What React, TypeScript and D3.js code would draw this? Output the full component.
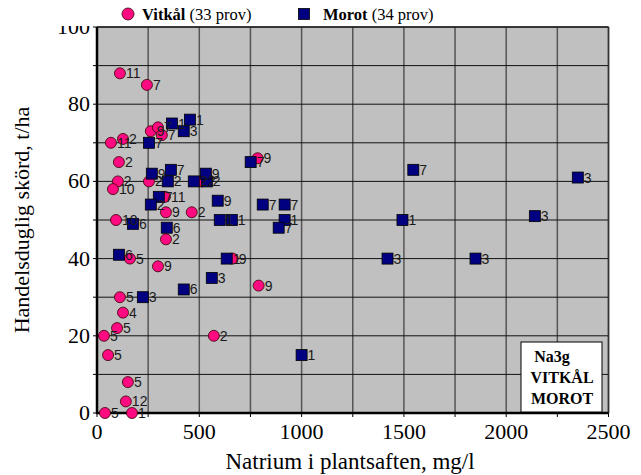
import React from "react";
import * as d3 from "d3";

// Vitkål (33 prov)
const vitkalX = [112, 244, 263, 298, 317, 127, 68, 107, 102, 78, 254, 512, 332, 337, 463, 93, 337, 161, 298, 663, 790, 112, 127, 98, 34, 571, 54, 151, 141, 39, 171, 785];
const vitkalY = [88, 85, 73, 74, 72, 71, 70, 65, 60, 58, 60, 60, 56, 52, 52, 50, 45, 40, 38, 40, 33, 30, 26, 22, 20, 20, 15, 8, 3, 0, 0, 66];
const vitkalLabels = ["11", "7", "9", "7", "7", "2", "11", "2", "2", "10", "2", "2", "11", "9", "2", "10", "2", "5", "9", "9", "9", "5", "4", "5", "5", "2", "5", "5", "12", "5", "1", "9"];

// Morot (34 prov)
const morotX = [254, 366, 454, 424, 751, 1546, 2350, 1493, 2140, 1850, 1420, 810, 917, 659, 917, 888, 1000, 268, 361, 346, 473, 537, 532, 590, 302, 263, 600, 341, 176, 107, 634, 561, 424, 224];
const morotY = [70, 75, 76, 73, 65, 63, 61, 50, 51, 40, 40, 54, 54, 50, 50, 48, 15, 62, 63, 60, 60, 60, 62, 55, 56, 54, 50, 48, 49, 41, 40, 35, 32, 30];
const morotLabels = ["7", "1", "1", "3", "7", "7", "3", "1", "3", "3", "3", "7", "7", "1", "1", "7", "1", "9", "7", "2", "2", "2", "9", "9", "7", "2", "1", "6", "6", "6", "1", "3", "6", "3"];

const xTicks = [0, 500, 1000, 1500, 2000, 2500];
const yTicks = [0, 20, 40, 60, 80, 100];
const xGrid = d3.range(0, 2501, 250);
const yGrid = d3.range(0, 101, 10);

const boxLines = ["Na3g", "VITKÅL", "MOROT"];

const W = 641;
const H = 475;
const L = 97;
const R = 608.5;
const T = 27;
const B = 413;

export default function App() {
  const x = d3.scaleLinear().domain([0, 2500]).range([L, R]);
  const y = d3.scaleLinear().domain([0, 100]).range([B, T]);
  const serif = "'Liberation Serif', 'Times New Roman', serif";
  const sans = "'Liberation Sans', Arial, sans-serif";
  const pink = "#ff0a80";
  const navy = "#000080";
  const sq = 11;

  return (
    <div style={{ position: "fixed", left: 0, top: 0 }}>
      <svg width={W} height={H} style={{ display: "block", background: "#fff" }}>
        <rect x={L} y={T} width={R - L} height={B - T} fill="#c0c0c0" />
        {xGrid.map((v) => (
          <line key={"xg" + v} x1={x(v)} x2={x(v)} y1={T} y2={B} stroke="#555" strokeWidth={1.5} />
        ))}
        {yGrid.map((v) => (
          <line key={"yg" + v} x1={L} x2={R} y1={y(v)} y2={y(v)} stroke="#111" strokeWidth={1} />
        ))}
        <line x1={R} x2={R} y1={T} y2={B} stroke="#333" strokeWidth={1.5} />
        <line x1={L} x2={L} y1={T} y2={B + 1} stroke="#000" strokeWidth={2.5} />
        <line x1={L - 1} x2={R} y1={B} y2={B} stroke="#000" strokeWidth={2.5} />
        {yGrid.map((v) => (
          <line key={"yt" + v} x1={L - 4} x2={L} y1={y(v)} y2={y(v)} stroke="#000" strokeWidth={1} />
        ))}
        {xGrid.map((v) => (
          <line key={"xt" + v} x1={x(v)} x2={x(v)} y1={B} y2={B + 4} stroke="#000" strokeWidth={1} />
        ))}
        {yTicks.map((v) => (
          <text key={"yl" + v} x={L - 7} y={y(v) + 7} textAnchor="end" fontFamily={serif} fontSize={22}>
            {v}
          </text>
        ))}
        {xTicks.map((v) => (
          <text key={"xl" + v} x={x(v)} y={B + 26} textAnchor="middle" fontFamily={serif} fontSize={22}>
            {v}
          </text>
        ))}
        <text x={350} y={469} textAnchor="middle" fontFamily={serif} fontSize={23}>
          Natrium i plantsaften, mg/l
        </text>
        <text transform="translate(29,220) rotate(-90)" textAnchor="middle" fontFamily={serif} fontSize={22}>
          Handelsduglig skörd, t/ha
        </text>

        {vitkalX.map((v, i) => (
          <circle key={"c" + i} cx={x(v)} cy={y(vitkalY[i])} r={5.5} fill={pink} stroke="#300" strokeWidth={0.8} />
        ))}
        {morotX.map((v, i) => (
          <rect key={"s" + i} x={x(v) - sq / 2} y={y(morotY[i]) - sq / 2} width={sq} height={sq} fill={navy} stroke="#000" strokeWidth={0.8} />
        ))}
        {vitkalX.map((v, i) => (
          <text key={"cl" + i} x={x(v) + 6} y={y(vitkalY[i]) + 5} fontFamily={sans} fontSize={14} fill="#1a1a1a">
            {vitkalLabels[i]}
          </text>
        ))}
        {morotX.map((v, i) => (
          <text key={"sl" + i} x={x(v) + 6} y={y(morotY[i]) + 5} fontFamily={sans} fontSize={14} fill="#1a1a1a">
            {morotLabels[i]}
          </text>
        ))}

        <rect x={0} y={0} width={W} height={T - 1} fill="#fff" />
        <circle cx={128} cy={14} r={6} fill={pink} stroke="#300" strokeWidth={0.8} />
        <text x={142} y={19.5} fontFamily={serif} fontSize={16.5}>
          <tspan fontWeight="bold">Vitkål</tspan> (33 prov)
        </text>
        <rect x={298.5} y={8.5} width={sq} height={sq} fill={navy} stroke="#000" strokeWidth={0.8} />
        <text x={323} y={19.5} fontFamily={serif} fontSize={16.5}>
          <tspan fontWeight="bold">Morot</tspan> (34 prov)
        </text>
        <line x1={L} x2={R} y1={T} y2={T} stroke="#222" strokeWidth={1.5} />

        <rect x={521} y={342} width={81} height={70} fill="#fff" stroke="#000" strokeWidth={1} />
        {boxLines.map((t, i) => (
          <text key={"b" + i} x={i === 0 ? 552 : 562} y={362 + i * 21} textAnchor="middle" fontFamily={serif} fontSize={16} fontWeight="bold">
            {t}
          </text>
        ))}
      </svg>
    </div>
  );
}
